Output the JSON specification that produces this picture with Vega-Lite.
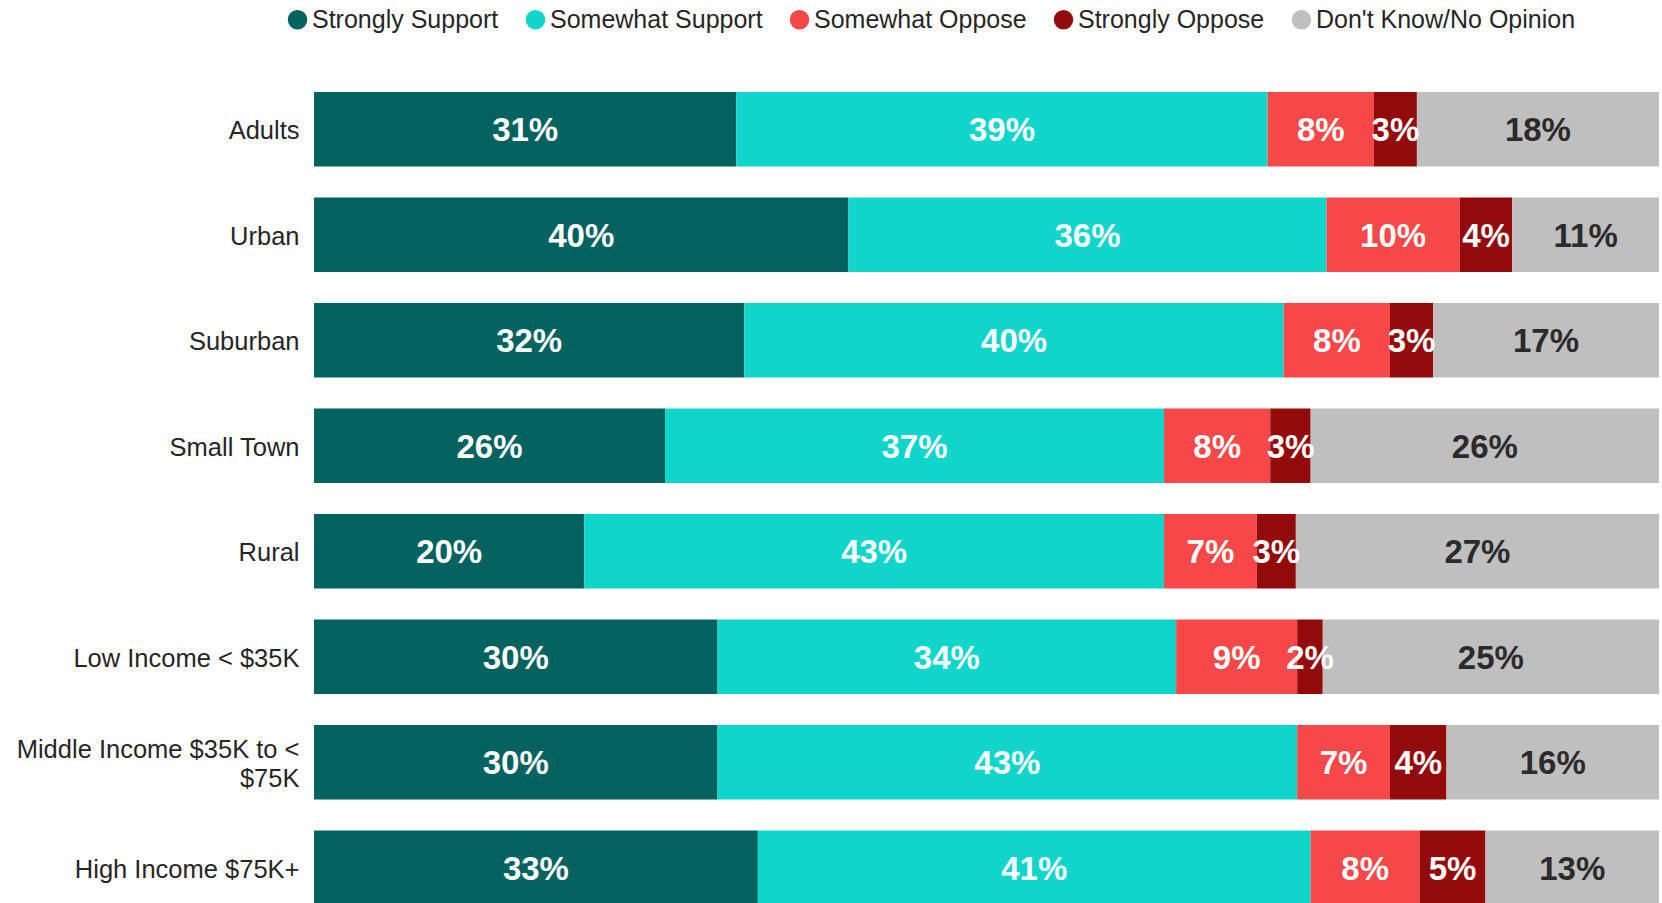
{
  "$schema": "https://vega.github.io/schema/vega-lite/v6.json",
  "width": 1345,
  "height": 811,
  "autosize": {"type": "none"},
  "padding": {"left": 314, "top": 92, "right": 3, "bottom": 0},
  "background": "white",
  "config": {"view": {"stroke": null}, "font": "Liberation Sans"},
  "data": {
    "values": [
      {"group": "Adults", "response": "Strongly Support", "rank": 1, "value": 31.4, "label": "31%"},
      {"group": "Adults", "response": "Somewhat Support", "rank": 2, "value": 39.5, "label": "39%"},
      {"group": "Adults", "response": "Somewhat Oppose", "rank": 3, "value": 7.9, "label": "8%"},
      {"group": "Adults", "response": "Strongly Oppose", "rank": 4, "value": 3.2, "label": "3%"},
      {"group": "Adults", "response": "Don't Know/No Opinion", "rank": 5, "value": 18.0, "label": "18%"},
      {"group": "Urban", "response": "Strongly Support", "rank": 1, "value": 39.7, "label": "40%"},
      {"group": "Urban", "response": "Somewhat Support", "rank": 2, "value": 35.5, "label": "36%"},
      {"group": "Urban", "response": "Somewhat Oppose", "rank": 3, "value": 9.9, "label": "10%"},
      {"group": "Urban", "response": "Strongly Oppose", "rank": 4, "value": 3.9, "label": "4%"},
      {"group": "Urban", "response": "Don't Know/No Opinion", "rank": 5, "value": 10.9, "label": "11%"},
      {"group": "Suburban", "response": "Strongly Support", "rank": 1, "value": 32.0, "label": "32%"},
      {"group": "Suburban", "response": "Somewhat Support", "rank": 2, "value": 40.1, "label": "40%"},
      {"group": "Suburban", "response": "Somewhat Oppose", "rank": 3, "value": 7.9, "label": "8%"},
      {"group": "Suburban", "response": "Strongly Oppose", "rank": 4, "value": 3.2, "label": "3%"},
      {"group": "Suburban", "response": "Don't Know/No Opinion", "rank": 5, "value": 16.8, "label": "17%"},
      {"group": "Small Town", "response": "Strongly Support", "rank": 1, "value": 26.1, "label": "26%"},
      {"group": "Small Town", "response": "Somewhat Support", "rank": 2, "value": 37.1, "label": "37%"},
      {"group": "Small Town", "response": "Somewhat Oppose", "rank": 3, "value": 7.9, "label": "8%"},
      {"group": "Small Town", "response": "Strongly Oppose", "rank": 4, "value": 3.0, "label": "3%"},
      {"group": "Small Town", "response": "Don't Know/No Opinion", "rank": 5, "value": 25.9, "label": "26%"},
      {"group": "Rural", "response": "Strongly Support", "rank": 1, "value": 20.1, "label": "20%"},
      {"group": "Rural", "response": "Somewhat Support", "rank": 2, "value": 43.1, "label": "43%"},
      {"group": "Rural", "response": "Somewhat Oppose", "rank": 3, "value": 6.9, "label": "7%"},
      {"group": "Rural", "response": "Strongly Oppose", "rank": 4, "value": 2.9, "label": "3%"},
      {"group": "Rural", "response": "Don't Know/No Opinion", "rank": 5, "value": 27.0, "label": "27%"},
      {"group": "Low Income < $35K", "response": "Strongly Support", "rank": 1, "value": 30.0, "label": "30%"},
      {"group": "Low Income < $35K", "response": "Somewhat Support", "rank": 2, "value": 34.1, "label": "34%"},
      {"group": "Low Income < $35K", "response": "Somewhat Oppose", "rank": 3, "value": 9.0, "label": "9%"},
      {"group": "Low Income < $35K", "response": "Strongly Oppose", "rank": 4, "value": 1.9, "label": "2%"},
      {"group": "Low Income < $35K", "response": "Don't Know/No Opinion", "rank": 5, "value": 25.0, "label": "25%"},
      {"group": "Middle Income $35K to < $75K", "response": "Strongly Support", "rank": 1, "value": 30.0, "label": "30%"},
      {"group": "Middle Income $35K to < $75K", "response": "Somewhat Support", "rank": 2, "value": 43.1, "label": "43%"},
      {"group": "Middle Income $35K to < $75K", "response": "Somewhat Oppose", "rank": 3, "value": 6.9, "label": "7%"},
      {"group": "Middle Income $35K to < $75K", "response": "Strongly Oppose", "rank": 4, "value": 4.2, "label": "4%"},
      {"group": "Middle Income $35K to < $75K", "response": "Don't Know/No Opinion", "rank": 5, "value": 15.8, "label": "16%"},
      {"group": "High Income $75K+", "response": "Strongly Support", "rank": 1, "value": 33.0, "label": "33%"},
      {"group": "High Income $75K+", "response": "Somewhat Support", "rank": 2, "value": 41.1, "label": "41%"},
      {"group": "High Income $75K+", "response": "Somewhat Oppose", "rank": 3, "value": 8.1, "label": "8%"},
      {"group": "High Income $75K+", "response": "Strongly Oppose", "rank": 4, "value": 4.9, "label": "5%"},
      {"group": "High Income $75K+", "response": "Don't Know/No Opinion", "rank": 5, "value": 12.9, "label": "13%"}
    ]
  },
  "encoding": {
    "y": {
      "field": "group",
      "type": "nominal",
      "title": null,
      "sort": ["Adults", "Urban", "Suburban", "Small Town", "Rural", "Low Income < $35K", "Middle Income $35K to < $75K", "High Income $75K+"],
      "scale": {"paddingInner": 0.295, "paddingOuter": 0, "range": [0, 813]},
      "axis": {
        "domain": false,
        "ticks": false,
        "labelFontSize": 25.5,
        "labelFont": "Liberation Sans",
        "labelColor": "#262626",
        "labelPadding": 15,
        "labelLimit": 400,
        "labelLineHeight": 29,
        "labelOffset": {"condition": {"test": "datum.value == 'Middle Income $35K to < $75K'", "value": -12.5}, "value": 2},
        "labelExpr": "datum.value == 'Middle Income $35K to < $75K' ? ['Middle Income $35K to <', '$75K'] : datum.value"
      }
    }
  },
  "layer": [
    {
      "mark": {"type": "bar"},
      "encoding": {
        "x": {"field": "value", "type": "quantitative", "stack": "normalize", "axis": null, "scale": {"domain": [0, 1], "nice": false}},
        "order": {"field": "rank", "type": "quantitative"},
        "color": {
          "field": "response",
          "type": "nominal",
          "scale": {
            "domain": ["Strongly Support", "Somewhat Support", "Somewhat Oppose", "Strongly Oppose", "Don't Know/No Opinion"],
            "range": ["#02625F", "#0FD5CB", "#F64848", "#930A0A", "#BFBFBF"]
          },
          "legend": {
            "orient": "none",
            "legendX": -29,
            "legendY": -85,
            "direction": "horizontal",
            "title": null,
            "symbolType": "circle",
            "symbolSize": 380,
            "symbolStrokeWidth": 0,
            "labelFontSize": 25,
            "labelFont": "Liberation Sans",
            "labelColor": "#262626",
            "labelOffset": 2,
            "labelLimit": 500,
            "columnPadding": 24
          }
        }
      }
    },
    {
      "mark": {"type": "text", "fontSize": 33, "fontWeight": "bold", "font": "Liberation Sans", "baseline": "middle", "align": "center", "dy": 2},
      "encoding": {
        "x": {"field": "value", "type": "quantitative", "stack": "normalize", "bandPosition": 0.5},
        "detail": {"field": "response"},
        "order": {"field": "rank", "type": "quantitative"},
        "text": {"field": "label"},
        "color": {"condition": {"test": "datum.rank == 5", "value": "#2B2B2B"}, "value": "#FFFFFF"}
      }
    }
  ]
}
